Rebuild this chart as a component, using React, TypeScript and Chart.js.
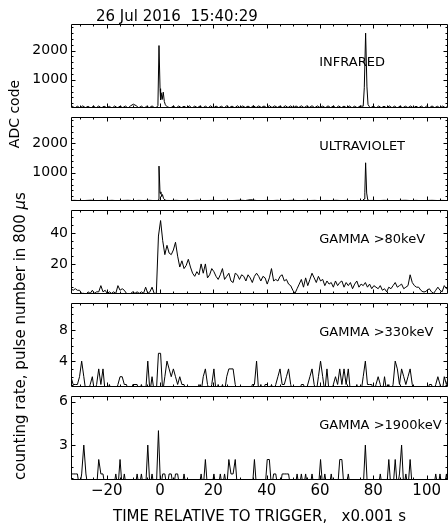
import React, { useEffect, useRef } from "react";
import { Chart, registerables } from "chart.js";

Chart.register(...registerables);

const FONT = "'DejaVu Sans', sans-serif";
Chart.defaults.font.family = FONT;
Chart.defaults.color = "#000";

// ---------- text ----------
const TITLE = "26 Jul 2016  15:40:29";
const X_TITLE = "TIME RELATIVE TO TRIGGER,   x0.001 s";
const Y_TITLE_ADC = "ADC code";
const Y_TITLE_COUNT = "counting rate, pulse number in 800 ";

// ---------- x axis ----------
const X_MIN = -33.4;
const X_MAX = 108.0;
const X_TICKS = [-20, 0, 20, 40, 60, 80, 100];
const X_MINOR_STEP = 5;

// ---------- ADC data (ms, ADC code) ----------
const IR_TIMES = [
  -34, -33, -32, -31, -30, -29, -28, -27, -26, -25, -24, -23, -22, -21, -20, -19, -18, -17, -16, -15,
  -14, -13, -12, -11, -10, -9, -8, -7, -6, -5, -4, -3, -2,
  -1.2, -0.8, -0.4, 0, 0.2, 0.4, 0.8, 1.2, 1.6, 2, 2.6, 3,
  4, 5, 6, 7, 8, 9, 10, 11, 12, 13, 14, 15, 16, 17, 18, 19, 20, 21, 22, 23, 24, 25, 26, 27, 28, 29,
  30, 31, 32, 33, 34, 35, 36, 37, 38, 39, 40, 41, 42, 43, 44, 45, 46, 47, 48, 49, 50, 51, 52, 53, 54,
  55, 56, 57, 58, 59, 60, 61, 62, 63, 64, 65, 66, 67, 68, 69, 70, 71, 72, 73, 74, 75,
  76.2, 76.6, 77.1, 77.6, 78, 78.5,
  79, 80, 81, 82, 83, 84, 85, 86, 87, 88, 89, 90, 91, 92, 93, 94, 95, 96, 97, 98, 99, 100, 101, 102,
  103, 104, 105, 106, 107, 108,
];
const IR_VALUES = [
  48, 107, 38, 100, 43, 112, 50, 97, 36, 104, 46, 108, 40, 102, 48, 96, 35, 110, 44, 101,
  51, 106, 39, 117, 170, 122, 46, 104, 38, 99, 49, 111, 42,
  70, 120, 2170, 700, 320, 560, 330, 580, 260, 150, 85, 70,
  46, 106, 40, 109, 48, 100, 43, 113, 37, 104, 51, 108, 42, 102, 46, 115, 38, 107, 50, 101,
  45, 112, 54, 105, 43, 116, 49, 109, 56, 104, 47, 118, 52, 110, 58, 107, 50, 120, 54, 111,
  59, 106, 48, 117, 55, 112, 46, 109, 57, 114, 51, 108, 60, 116, 49, 111, 54, 105, 46, 113,
  52, 107, 44, 110, 50, 104, 43, 109, 48, 102, 45, 106,
  100, 730, 2594, 760, 160, 85,
  48, 105, 40, 108, 46, 101, 42, 111, 49, 103, 38, 107, 45, 102, 51, 109, 41, 100, 47, 106,
  39, 104, 44, 110, 48, 99, 43, 105, 50, 102,
];

const UV_TIMES = [
  -34, -32, -30, -28, -26, -24, -22, -20, -18, -16, -14, -12, -10, -8, -6, -4, -2,
  -1, -0.6, -0.4, 0, 0.3, 0.6, 0.9, 1.3, 1.8, 2.4,
  4, 6, 8, 10, 12, 14, 16, 18, 20, 22, 24, 26, 28, 30, 32, 34, 36, 38, 40, 42, 44, 46, 48, 50,
  52, 54, 56, 58, 60, 62, 64, 66, 68, 70, 72, 74,
  76, 76.5, 76.8, 77.1, 77.5, 77.9, 78.4,
  80, 82, 84, 86, 88, 90, 92, 94, 96, 98, 100, 102, 104, 106, 108,
];
const UV_VALUES = [
  55, 62, 50, 58, 66, 52, 60, 54, 63, 51, 59, 65, 53, 61, 56, 64, 52,
  55, 90, 1228, 300, 352, 190, 260, 130, 75, 60,
  57, 63, 52, 60, 55, 64, 51, 58, 62, 54, 60, 53, 59, 66, 56, 85, 58, 52, 61, 55, 63, 50, 58, 64,
  53, 60, 56, 62, 51, 59, 57, 63, 54, 60, 52, 58,
  55, 110, 320, 1341, 310, 80, 58,
  60, 54, 62, 57, 51, 59, 64, 55, 61, 53, 58, 63, 56, 60, 54,
];

// ---------- gamma counts, 0.8 ms bins starting at -33.4 ms ----------
const BIN_START = -33.4;
const BIN_WIDTH = 0.8;

const GAMMA_80 = [
  4, 3, 4, 3, 3, 1, 1, 0, 2, 1,
  3, 1, 2, 2, 6, 2, 3, 1, 2, 1,
  2, 1, 6, 3, 4, 3, 1, 0, 1, 2,
  1, 2, 1, 2, 1, 5, 1, 2, 5, 1,
  1, 38, 48, 35, 26, 32, 27, 26, 29, 34,
  25, 18, 22, 17, 19, 23, 18, 14, 12, 15,
  13, 20, 14, 20, 11, 13, 17, 15, 12, 10,
  13, 17, 10, 12, 14, 9, 8, 14, 13, 10,
  13, 12, 9, 13, 11, 8, 12, 14, 12, 9,
  12, 11, 7, 11, 17, 9, 10, 9, 12, 13,
  9, 10, 7, 6, 3, 1, 4, 7, 10, 5,
  11, 6, 10, 14, 11, 8, 12, 9, 10, 6,
  9, 7, 8, 5, 9, 6, 8, 9, 5, 8,
  6, 8, 4, 7, 9, 5, 7, 6, 8, 5,
  7, 4, 6, 5, 4, 6, 3, 4, 2, 5,
  4, 6, 8, 5, 6, 7, 4, 5, 6, 13,
  8, 6, 5, 5, 3, 2, 2, 3, 4, 2,
  1, 3, 5, 3, 2, 6, 4, 5,
];

const GAMMA_330 = [
  2, 1, 1, 1, 2, 4, 2, 0, 0, 1,
  2, 0, 1, 3, 1, 3, 0, 0, 1, 0,
  0, 0, 1, 2, 2, 1, 1, 0, 0, 1,
  1, 1, 0, 1, 0, 0, 4, 0, 2, 0,
  0, 5, 5, 0, 2, 4, 3, 2, 3, 2,
  1, 2, 1, 1, 0, 0, 0, 0, 0, 0,
  1, 0, 2, 3, 1, 0, 1, 3, 0, 1,
  0, 1, 0, 2, 3, 3, 3, 1, 0, 0,
  0, 0, 0, 0, 0, 1, 1, 4, 0, 1,
  0, 1, 1, 0, 1, 0, 1, 2, 3, 1,
  1, 2, 3, 1, 0, 0, 0, 0, 1, 1,
  0, 1, 2, 3, 1, 0, 2, 4, 2, 0,
  3, 0, 0, 1, 2, 1, 3, 1, 3, 1,
  3, 0, 0, 0, 1, 0, 0, 2, 4, 1,
  1, 1, 0, 1, 2, 1, 0, 2, 0, 1,
  0, 1, 4, 3, 1, 3, 2, 1, 2, 3,
  1, 0, 0, 0, 0, 0, 0, 0, 1, 1,
  0, 1, 2, 1, 0, 2, 1, 2,
];

const GAMMA_1900 = [
  1, 1, 1, 1, 0, 1, 3, 1, 0, 0,
  0, 0, 0, 2, 1, 1, 0, 0, 0, 0,
  0, 1, 0, 2, 0, 1, 0, 0, 0, 0,
  0, 1, 0, 1, 0, 0, 3, 0, 1, 0,
  0, 4, 0, 1, 1, 0, 1, 1, 0, 1,
  1, 0, 0, 1, 0, 0, 0, 0, 0, 0,
  0, 1, 0, 2, 0, 0, 0, 1, 0, 0,
  1, 0, 1, 0, 2, 1, 1, 2, 0, 0,
  0, 0, 0, 0, 0, 0, 2, 0, 0, 0,
  0, 0, 2, 2, 0, 1, 1, 0, 0, 1,
  1, 1, 1, 0, 0, 0, 1, 0, 1, 0,
  1, 0, 0, 1, 0, 0, 0, 2, 0, 1,
  0, 0, 1, 0, 0, 0, 2, 2, 0, 0,
  1, 0, 0, 0, 0, 0, 0, 0, 3, 0,
  0, 0, 0, 0, 0, 1, 0, 0, 0, 2,
  0, 0, 2, 0, 1, 3, 0, 1, 0, 2,
  0, 0, 0, 0, 0, 0, 0, 0, 0, 0,
  0, 1, 0, 1, 0, 0, 1, 0,
];

const binTimes = (n: number) => Array.from({ length: n }, (_, i) => BIN_START + BIN_WIDTH * i);

// ---------- layout ----------
const W = 448;
const H = 525;
const PAD = 14;
const PH = 84;
const Y_AXIS_W = 71;
const LABEL_X = 59.7;

type PanelDef = {
  key: string;
  label: string;
  labelY: number;
  top: number;
  xs: number[];
  ys: number[];
  yMin: number;
  yMax: number;
  yMajor: number[];
  yMinorStep: number;
  bottom?: boolean;
};

const PANELS: PanelDef[] = [
  { key: "ir", label: "INFRARED", labelY: 39, top: 24, xs: IR_TIMES, ys: IR_VALUES, yMin: 40, yMax: 2905, yMajor: [1000, 2000], yMinorStep: 200 },
  { key: "uv", label: "ULTRAVIOLET", labelY: 29.5, top: 117, xs: UV_TIMES, ys: UV_VALUES, yMin: 40, yMax: 2900, yMajor: [1000, 2000], yMinorStep: 200 },
  { key: "g80", label: "GAMMA >80keV", labelY: 29.5, top: 210, xs: binTimes(GAMMA_80.length), ys: GAMMA_80, yMin: 0.6, yMax: 54.8, yMajor: [20, 40], yMinorStep: 5 },
  { key: "g330", label: "GAMMA >330keV", labelY: 29.5, top: 303, xs: binTimes(GAMMA_330.length), ys: GAMMA_330, yMin: 0.68, yMax: 11.45, yMajor: [4, 8], yMinorStep: 1 },
  { key: "g1900", label: "GAMMA >1900keV", labelY: 29.5, top: 396, xs: binTimes(GAMMA_1900.length), ys: GAMMA_1900, yMin: 0.58, yMax: 6.4, yMajor: [3, 6], yMinorStep: 0.75, bottom: true },
];

const fmtX = (v: number) => (v < 0 ? "\u2212" + Math.abs(v) : String(v));

function makeFramePlugin(def: PanelDef) {
  return {
    id: "frame_" + def.key,
    afterDatasetsDraw(chart: any) {
      const { ctx, chartArea: a } = chart;
      const xs = chart.scales.x;
      const ys = chart.scales.y;
      const L = Math.round(a.left) + 0.5;
      const T = Math.round(a.top) + 0.5;
      const B = Math.round(a.bottom) - 0.5;
      const R = Math.round(a.right) - 0.5;
      ctx.save();
      ctx.strokeStyle = "#000";
      ctx.lineWidth = 1;
      ctx.beginPath();
      ctx.moveTo(R, T);
      ctx.lineTo(L, T);
      ctx.lineTo(L, B);
      ctx.lineTo(R, B);
      ctx.closePath();
      // x ticks (inside, top and bottom)
      for (let k = Math.ceil(X_MIN / X_MINOR_STEP); k * X_MINOR_STEP <= X_MAX; k++) {
        const v = k * X_MINOR_STEP;
        const major = X_TICKS.includes(v);
        const len = major ? 4 : 2;
        const px = Math.round(xs.getPixelForValue(v)) + 0.5;
        ctx.moveTo(px, T);
        ctx.lineTo(px, T + len);
        ctx.moveTo(px, B);
        ctx.lineTo(px, B - len);
      }
      // y ticks (inside, left and right)
      for (let k = Math.ceil(def.yMin / def.yMinorStep); k * def.yMinorStep <= def.yMax; k++) {
        const v = k * def.yMinorStep;
        const major = def.yMajor.some((m) => Math.abs(m - v) < 1e-6);
        const len = major ? 4 : 2;
        const py = Math.round(ys.getPixelForValue(v)) + 0.5;
        ctx.moveTo(L, py);
        ctx.lineTo(L + len, py);
        ctx.moveTo(R, py);
        ctx.lineTo(R - len, py);
      }
      ctx.stroke();
      // panel label
      ctx.fillStyle = "#000";
      ctx.font = `13px ${FONT}`;
      ctx.textAlign = "left";
      ctx.textBaseline = "middle";
      ctx.fillText(def.label, xs.getPixelForValue(LABEL_X), a.top + def.labelY);
      ctx.restore();
    },
  };
}

function Panel({ def }: { def: PanelDef }) {
  const ref = useRef<HTMLCanvasElement>(null);
  const isBottom = !!def.bottom;
  const canvasTop = def.top - PAD;
  const height = isBottom ? H - canvasTop : PH + 2 * PAD;

  useEffect(() => {
    if (!ref.current) return;
    const chart = new Chart(ref.current, {
      type: "line",
      data: {
        datasets: [
          {
            data: def.xs.map((x, i) => ({ x, y: def.ys[i] })),
            borderColor: "#000",
            borderWidth: 1,
            pointRadius: 0,
            tension: 0,
            fill: false,
          },
        ],
      },
      options: {
        animation: false,
        responsive: false,
        maintainAspectRatio: false,
        events: [],
        layout: { padding: { top: PAD, bottom: isBottom ? 0 : PAD, left: 0, right: 0 } },
        plugins: {
          legend: { display: false },
          tooltip: { enabled: false },
          title: { display: false },
        },
        scales: {
          x: {
            type: "linear",
            min: X_MIN,
            max: X_MAX,
            display: isBottom,
            grid: { display: false, drawTicks: false },
            border: { display: false },
            afterBuildTicks: (s: any) => {
              s.ticks = X_TICKS.map((value) => ({ value }));
            },
            afterFit: (s: any) => {
              if (isBottom) s.height = 45;
            },
            ticks: {
              autoSkip: false,
              maxRotation: 0,
              minRotation: 0,
              padding: 2,
              color: "#000",
              font: { size: 15 },
              callback: (v: any) => fmtX(Number(v)),
            },
            title: {
              display: isBottom,
              text: X_TITLE,
              color: "#000",
              font: { size: 15, lineHeight: 1 },
              padding: { top: 0, bottom: 0 },
            },
          },
          y: {
            type: "linear",
            min: def.yMin,
            max: def.yMax,
            grid: { display: false, drawTicks: false },
            border: { display: false },
            afterBuildTicks: (s: any) => {
              s.ticks = def.yMajor.map((value) => ({ value }));
            },
            afterFit: (s: any) => {
              s.width = Y_AXIS_W;
            },
            ticks: {
              padding: 3,
              color: "#000",
              font: { size: 14 },
              callback: (v: any) => String(v),
            },
          },
        },
      } as any,
      plugins: [makeFramePlugin(def)],
    });
    return () => chart.destroy();
  }, []);

  return (
    <canvas
      ref={ref}
      width={W}
      height={height}
      style={{ position: "absolute", left: 0, top: canvasTop, width: W, height }}
    />
  );
}

export default function App() {
  return (
    <div
      style={{
        position: "absolute",
        left: 0,
        top: 0,
        width: W,
        height: H,
        overflow: "hidden",
        background: "#fff",
        fontFamily: FONT,
        color: "#000",
      }}
    >
      {PANELS.map((p) => (
        <Panel key={p.key} def={p} />
      ))}
      <div
        style={{
          position: "absolute",
          left: 96,
          top: 7,
          fontSize: 15,
          lineHeight: "18px",
          whiteSpace: "pre",
        }}
      >
        {TITLE}
      </div>
      <div
        style={{
          position: "absolute",
          left: 14,
          top: 114,
          transform: "translate(-50%, -50%) rotate(-90deg)",
          whiteSpace: "nowrap",
          fontSize: 14,
          lineHeight: "16px",
        }}
      >
        {Y_TITLE_ADC}
      </div>
      <div
        style={{
          position: "absolute",
          left: 20,
          top: 336,
          transform: "translate(-50%, -50%) rotate(-90deg)",
          whiteSpace: "pre",
          fontSize: 15,
          lineHeight: "17px",
        }}
      >
        {Y_TITLE_COUNT}
        <i>{"\u03bc"}</i>
        {"s"}
      </div>
    </div>
  );
}
